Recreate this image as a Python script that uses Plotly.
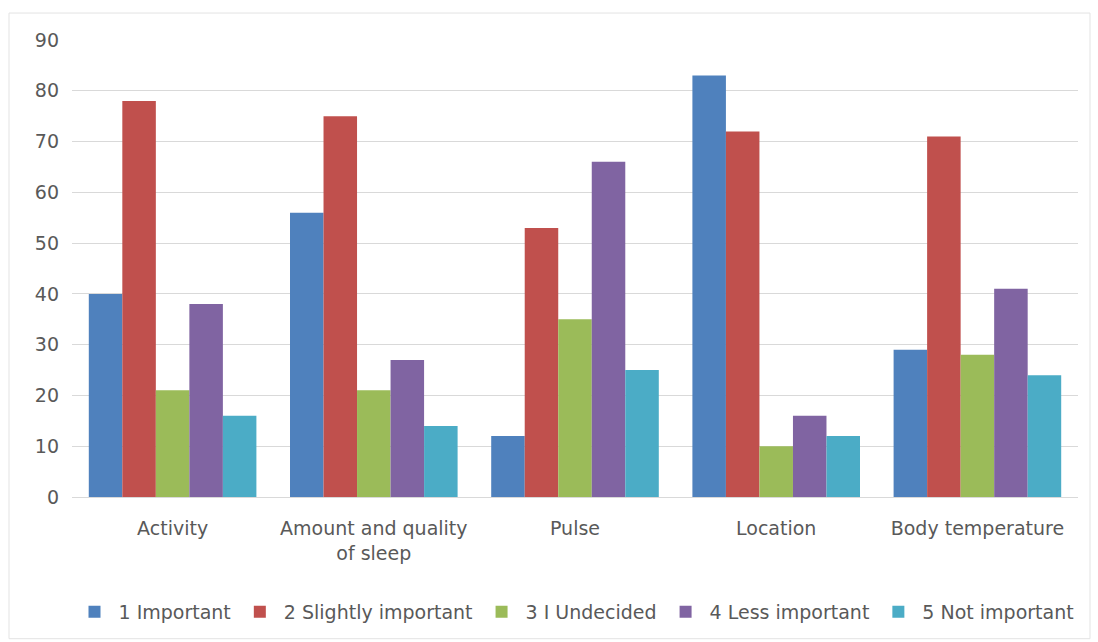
import plotly.graph_objects as go

# Survey: importance ratings of monitored parameters
categories = ["Activity", "Amount and quality of sleep", "Pulse", "Location", "Body temperature"]
tick_labels = ["Activity", "Amount and quality<br>of sleep", "Pulse", "Location", "Body temperature"]

series_names = ["1 Important", "2 Slightly important", "3 I Undecided", "4 Less important", "5 Not important"]
important = [40, 56, 12, 83, 29]
slightly_important = [78, 75, 53, 72, 71]
undecided = [21, 21, 35, 10, 28]
less_important = [38, 27, 66, 16, 41]
not_important = [16, 14, 25, 12, 24]

series_values = [important, slightly_important, undecided, less_important, not_important]
colors = ["#4F81BD", "#C0504D", "#9BBB59", "#8064A2", "#4BACC6"]

FONT = "DejaVu Sans"
TEXT_COLOR = "#595959"
GRID = "#D9D9D9"

fig = go.Figure()
for name, vals, col in zip(series_names, series_values, colors):
    fig.add_trace(go.Bar(
        x=categories, y=vals, name=name,
        marker=dict(color=col, line=dict(width=0)),
    ))

W, H = 1098, 642
L, R, T, B = 72, 20, 40, 144
pw, ph = W - L - R, H - T - B

def px_x(v):
    return (v - L) / pw

def px_y(v):
    return (H - B - v) / ph

fig.update_layout(
    width=W, height=H,
    margin=dict(l=L, r=R, t=T, b=B),
    paper_bgcolor="white", plot_bgcolor="white",
    barmode="group", bargap=0.167, bargroupgap=0,
    font=dict(family=FONT, size=19, color=TEXT_COLOR),
    showlegend=True,
    legend=dict(
        orientation="h", x=0.5, xanchor="center",
        y=px_y(612), yanchor="middle",
        font=dict(family=FONT, size=19, color=TEXT_COLOR),
        traceorder="normal", itemwidth=38,
    ),
    xaxis=dict(
        tickmode="array", tickvals=categories, ticktext=tick_labels,
        showgrid=False, showline=True, linecolor=GRID, linewidth=1,
        ticks="", ticklabelstandoff=14,
        tickfont=dict(family=FONT, size=19, color=TEXT_COLOR),
    ),
    yaxis=dict(
        range=[0, 90], dtick=10, tick0=0,
        showgrid=True, gridcolor=GRID, gridwidth=1,
        zeroline=False, showline=False, ticks="",
        ticklabelstandoff=12,
        tickfont=dict(family=FONT, size=19, color=TEXT_COLOR),
    ),
    shapes=[dict(
        type="rect", xref="paper", yref="paper",
        x0=px_x(9), x1=px_x(1090), y0=px_y(640), y1=px_y(13),
        line=dict(color="#E3E3E3", width=1), fillcolor="rgba(0,0,0,0)",
        layer="below",
    )],
)

fig.write_html("out.html")
